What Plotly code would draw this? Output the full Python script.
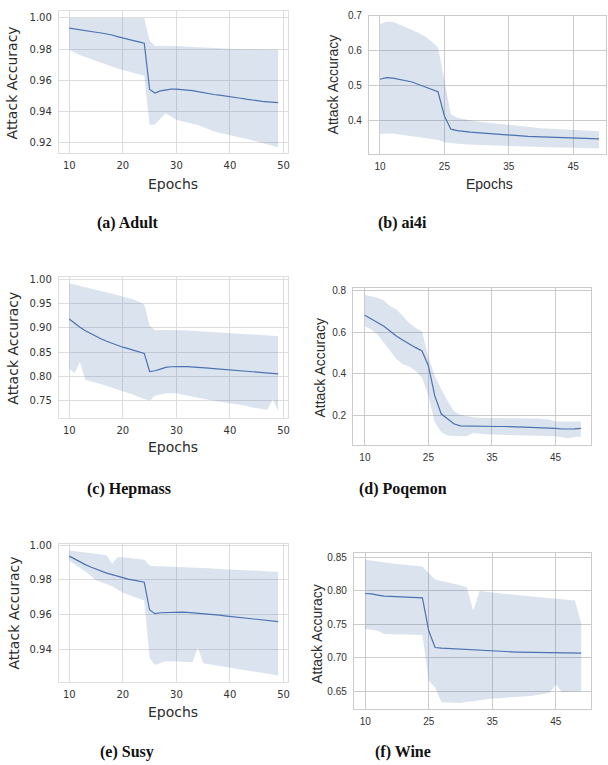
import plotly.graph_objects as go

W, H = 608, 765

# ---------------- data ----------------
epochs_ace = list(range(10, 50))
epochs_bdf = list(range(15, 50))  # plotted positions; tick "10" sits at the first one

mean_a = [0.9934, 0.9928, 0.9922, 0.9916, 0.9912, 0.9908, 0.9903, 0.9897, 0.9890, 0.9880,
          0.9870, 0.9862, 0.9854, 0.9846, 0.9837, 0.9540, 0.9516, 0.9530, 0.9536, 0.9541,
          0.9542, 0.9540, 0.9536, 0.9532, 0.9525, 0.9518, 0.9511, 0.9507, 0.9503, 0.9499,
          0.9495, 0.9489, 0.9483, 0.9477, 0.9471, 0.9467, 0.9463, 0.9460, 0.9457, 0.9454]
upper_a = [1.0] * 15 + [0.9855, 0.9820, 0.9820, 0.9820, 0.9819, 0.9818, 0.9817, 0.9815, 0.9813, 0.9810,
                        0.9807, 0.9805, 0.9804, 0.9803, 0.9802, 0.9801, 0.9800, 0.9800, 0.9799, 0.9798,
                        0.9797, 0.9797, 0.9796, 0.9796, 0.9795]
lower_a = [0.9795, 0.9775, 0.9760, 0.9748, 0.9735, 0.9722, 0.9710, 0.9698, 0.9686, 0.9674,
           0.9664, 0.9655, 0.9646, 0.9637, 0.9628, 0.9310, 0.9313, 0.9350, 0.9386, 0.9365,
           0.9345, 0.9335, 0.9324, 0.9318, 0.9310, 0.9295, 0.9280, 0.9270, 0.9261, 0.9252,
           0.9243, 0.9236, 0.9229, 0.9222, 0.9215, 0.9205, 0.9195, 0.9185, 0.9174, 0.9168]

mean_b = [0.519, 0.5236, 0.522, 0.518, 0.5145, 0.511, 0.504, 0.497, 0.490, 0.483,
          0.414, 0.376, 0.372, 0.369, 0.3675, 0.366, 0.3645, 0.363, 0.3615, 0.3598,
          0.358, 0.3572, 0.3564, 0.3556, 0.3548, 0.354, 0.3534, 0.3528, 0.3522, 0.3516,
          0.351, 0.3504, 0.3497, 0.3491, 0.3485]
upper_b = [0.677, 0.683, 0.683, 0.676, 0.668, 0.660, 0.651, 0.641, 0.627, 0.610,
           0.515, 0.419, 0.409, 0.405, 0.401, 0.398, 0.396, 0.394, 0.391, 0.389,
           0.387, 0.3855, 0.384, 0.3825, 0.3808, 0.379, 0.378, 0.377, 0.376, 0.375,
           0.374, 0.373, 0.372, 0.371, 0.370]
lower_b = [0.362, 0.364, 0.364, 0.361, 0.359, 0.357, 0.354, 0.351, 0.348, 0.345,
           0.339, 0.336, 0.3345, 0.333, 0.332, 0.331, 0.3304, 0.3298, 0.3292, 0.3286,
           0.328, 0.3274, 0.3268, 0.3262, 0.3256, 0.325, 0.3246, 0.3242, 0.3238, 0.3234,
           0.323, 0.3225, 0.322, 0.3215, 0.321]

mean_c = [0.9187, 0.9095, 0.9015, 0.894, 0.888, 0.8822, 0.877, 0.8723, 0.868, 0.864,
          0.860, 0.857, 0.854, 0.8505, 0.847, 0.8095, 0.811, 0.8145, 0.818, 0.8193,
          0.820, 0.8198, 0.8194, 0.819, 0.8182, 0.8173, 0.8165, 0.8156, 0.8146, 0.8137,
          0.8127, 0.8118, 0.8108, 0.8099, 0.8089, 0.808, 0.8072, 0.8063, 0.8055, 0.8046]
upper_c = [0.993, 0.990, 0.987, 0.9845, 0.9818, 0.979, 0.9763, 0.9736, 0.971, 0.9683,
           0.9656, 0.9625, 0.9592, 0.9545, 0.949, 0.905, 0.8952, 0.8955, 0.8958, 0.896,
           0.896, 0.8954, 0.8948, 0.8942, 0.8936, 0.893, 0.8924, 0.8918, 0.8912, 0.8906,
           0.890, 0.8893, 0.8886, 0.8878, 0.8871, 0.8864, 0.8856, 0.8847, 0.8839, 0.883]
lower_c = [0.8154, 0.806, 0.829, 0.792, 0.789, 0.7865, 0.783, 0.7795, 0.776, 0.7727,
           0.7693, 0.765, 0.761, 0.7565, 0.752, 0.7486, 0.759, 0.762, 0.764, 0.764,
           0.764, 0.7617, 0.7593, 0.757, 0.7545, 0.752, 0.7505, 0.7488, 0.7472, 0.7456,
           0.744, 0.742, 0.740, 0.738, 0.735, 0.733, 0.7315, 0.730, 0.752, 0.7266]

mean_d = [0.681, 0.663, 0.649, 0.628, 0.604, 0.580, 0.561, 0.541, 0.525, 0.509,
          0.437, 0.294, 0.207, 0.183, 0.159, 0.149, 0.148, 0.148, 0.147, 0.146,
          0.146, 0.146, 0.146, 0.146, 0.144, 0.143, 0.142, 0.141, 0.141, 0.140,
          0.137, 0.134, 0.133, 0.135, 0.137]
upper_d = [0.778, 0.772, 0.765, 0.751, 0.724, 0.708, 0.676, 0.644, 0.620, 0.604,
           0.477, 0.390, 0.326, 0.270, 0.222, 0.203, 0.196, 0.190, 0.188, 0.187,
           0.186, 0.186, 0.186, 0.186, 0.186, 0.186, 0.185, 0.184, 0.182, 0.180,
           0.170, 0.170, 0.170, 0.170, 0.170]
lower_d = [0.628, 0.612, 0.588, 0.549, 0.509, 0.469, 0.445, 0.434, 0.413, 0.381,
           0.294, 0.167, 0.119, 0.103, 0.100, 0.099, 0.099, 0.115, 0.111, 0.109,
           0.108, 0.107, 0.106, 0.105, 0.104, 0.103, 0.102, 0.101, 0.100, 0.100,
           0.099, 0.094, 0.090, 0.095, 0.097]

mean_e = [0.9937, 0.992, 0.9903, 0.9888, 0.9874, 0.9861, 0.9849, 0.9839, 0.983, 0.982,
          0.9811, 0.9804, 0.9798, 0.9792, 0.9786, 0.9626, 0.9605, 0.961, 0.9612, 0.9614,
          0.9614, 0.9614, 0.9612, 0.961, 0.9608, 0.9606, 0.9603, 0.9599, 0.9596, 0.9592,
          0.9589, 0.9586, 0.9582, 0.9579, 0.9575, 0.9572, 0.9569, 0.9565, 0.9562, 0.9559]
upper_e = [0.9969, 0.9966, 0.9963, 0.996, 0.9955, 0.995, 0.9946, 0.9941, 0.9893, 0.993,
           0.993, 0.9927, 0.9923, 0.992, 0.9916, 0.9883, 0.9878, 0.9878, 0.9877, 0.9877,
           0.9876, 0.9874, 0.9873, 0.9871, 0.987, 0.9868, 0.9866, 0.9865, 0.9863, 0.9862,
           0.986, 0.9859, 0.9857, 0.9856, 0.9854, 0.9853, 0.9851, 0.9849, 0.9847, 0.9845]
lower_e = [0.991, 0.989, 0.9872, 0.9848, 0.9823, 0.9798, 0.9786, 0.9775, 0.9763, 0.9744,
           0.9725, 0.9714, 0.9703, 0.9692, 0.9681, 0.9349, 0.9309, 0.932, 0.933, 0.933,
           0.933, 0.9328, 0.9326, 0.9324, 0.941, 0.9318, 0.9313, 0.9309, 0.9304, 0.93,
           0.9295, 0.929, 0.9286, 0.9281, 0.9277, 0.9272, 0.9266, 0.926, 0.9254, 0.9248]

mean_f = [0.7958, 0.7953, 0.7935, 0.7918, 0.7914, 0.791, 0.7906, 0.7902, 0.7898, 0.7894,
          0.740, 0.7154, 0.7145, 0.714, 0.713, 0.712, 0.7115, 0.711, 0.7105, 0.710,
          0.710, 0.7097, 0.7094, 0.709, 0.7087, 0.7085, 0.7085, 0.7085, 0.7085, 0.7085,
          0.7085, 0.7082, 0.7078, 0.7074, 0.707]
upper_f = [0.846, 0.845, 0.8435, 0.842, 0.841, 0.8397, 0.8388, 0.8378, 0.8369, 0.836,
           0.8263, 0.8165, 0.8145, 0.8125, 0.8103, 0.808, 0.805, 0.7696, 0.7995, 0.798,
           0.797, 0.796, 0.795, 0.794, 0.793, 0.792, 0.7912, 0.7904, 0.7896, 0.7888,
           0.788, 0.7871, 0.7862, 0.7854, 0.752]
lower_f = [0.7435, 0.7418, 0.740, 0.7356, 0.7353, 0.735, 0.7348, 0.7345, 0.7343, 0.734,
           0.666, 0.656, 0.634, 0.6336, 0.6333, 0.633, 0.6343, 0.6357, 0.637, 0.6383,
           0.6395, 0.64, 0.6405, 0.641, 0.6415, 0.642, 0.6434, 0.6448, 0.6462, 0.6476,
           0.6604, 0.649, 0.6495, 0.650, 0.6505]

ticks_ace = [10, 20, 30, 40, 50]
tickvals_bdf = [15, 25, 35, 45]
ticktext_bdf = ["10", "25", "35", "45"]

captions = ["(a) Adult", "(b) ai4i", "(c) Hepmass", "(d) Poqemon", "(e) Susy", "(f) Wine"]
ytitle = "Attack Accuracy"
xtitle = "Epochs"

# ---------------- style ----------------
LINE = "#4C72B0"
FILL = "rgba(76,114,176,0.2)"
SANS_A = "DejaVu Sans"
SANS_B = "Liberation Sans"
TXT = "#2b2b2b"


def px(x):
    return x / W


def py(y):
    return 1 - y / H


panels = [
    # x, mean, up, low, xdom(px), ydom(px), xrange, yrange, yticks, font, grid
    dict(x=epochs_ace, m=mean_a, u=upper_a, l=lower_a, xd=(59, 289), yd=(6, 149),
         xr=(8.05, 50.84), yr=(0.9130, 1.0045), yt=[0.92, 0.94, 0.96, 0.98, 1.00], yfmt=".2f",
         xt=ticks_ace, xtt=None, font=SANS_A, grid="#dedede"),
    dict(x=epochs_bdf, m=mean_b, u=upper_b, l=lower_b, xd=(370, 608), yd=(11, 150),
         xr=(13.26, 50.08), yr=(0.305, 0.70), yt=[0.4, 0.5, 0.6, 0.7], yfmt=".1f",
         xt=tickvals_bdf, xtt=ticktext_bdf, font=SANS_B, grid="#cccccc"),
    dict(x=epochs_ace, m=mean_c, u=upper_c, l=lower_c, xd=(59, 289), yd=(273.3, 415.3),
         xr=(8.05, 50.84), yr=(0.7136, 1.007), yt=[0.75, 0.80, 0.85, 0.90, 0.95, 1.00], yfmt=".2f",
         xt=ticks_ace, xtt=None, font=SANS_A, grid="#dedede"),
    dict(x=epochs_bdf, m=mean_d, u=upper_d, l=lower_d, xd=(354.3, 593), yd=(285, 442.7),
         xr=(13.15, 50.6), yr=(0.058, 0.811), yt=[0.2, 0.4, 0.6, 0.8], yfmt=".1f",
         xt=tickvals_bdf, xtt=ticktext_bdf, font=SANS_B, grid="#cccccc"),
    dict(x=epochs_ace, m=mean_e, u=upper_e, l=lower_e, xd=(59, 289), yd=(542.7, 681),
         xr=(8.05, 50.84), yr=(0.9213, 1.0006), yt=[0.94, 0.96, 0.98, 1.00], yfmt=".2f",
         xt=ticks_ace, xtt=None, font=SANS_A, grid="#dedede"),
    dict(x=epochs_bdf, m=mean_f, u=upper_f, l=lower_f, xd=(355, 593.3), yd=(552, 709),
         xr=(13.2, 50.6), yr=(0.6234, 0.8555), yt=[0.65, 0.70, 0.75, 0.80, 0.85], yfmt=".2f",
         xt=tickvals_bdf, xtt=ticktext_bdf, font=SANS_B, grid="#cccccc"),
]

fig = go.Figure()
layout = {}
for i, p in enumerate(panels):
    k = "" if i == 0 else str(i + 1)
    xa, ya = "x" + k, "y" + k
    fig.add_trace(go.Scatter(x=p["x"], y=p["u"], mode="lines", line=dict(width=0, color=LINE),
                             xaxis=xa, yaxis=ya, showlegend=False, hoverinfo="skip"))
    fig.add_trace(go.Scatter(x=p["x"], y=p["l"], mode="lines", line=dict(width=0, color=LINE),
                             fill="tonexty", fillcolor=FILL,
                             xaxis=xa, yaxis=ya, showlegend=False, hoverinfo="skip"))
    fig.add_trace(go.Scatter(x=p["x"], y=p["m"], mode="lines", line=dict(width=1.2, color=LINE),
                             xaxis=xa, yaxis=ya, showlegend=False))
    tf = dict(family=p["font"], size=10, color="#333333")
    xdict = dict(domain=[px(p["xd"][0]), px(p["xd"][1])], range=list(p["xr"]), anchor=ya,
                 tickvals=p["xt"], showgrid=True, gridcolor=p["grid"], gridwidth=1,
                 zeroline=False, showline=True, linecolor=p["grid"], linewidth=1, mirror=True,
                 ticks="", tickfont=tf, ticklabelstandoff=3)
    if p["xtt"] is not None:
        xdict["ticktext"] = p["xtt"]
    ydict = dict(domain=[py(p["yd"][1]), py(p["yd"][0])], range=list(p["yr"]), anchor=xa,
                 tickvals=p["yt"], tickformat=p["yfmt"], showgrid=True, gridcolor=p["grid"],
                 gridwidth=1, zeroline=False, showline=True, linecolor=p["grid"], linewidth=1,
                 mirror=True, ticks="", tickfont=tf, ticklabelstandoff=4)
    layout["xaxis" + k] = xdict
    layout["yaxis" + k] = ydict

fig.update_layout(**layout)

ann = []
# y titles (x_px, y_px, font)
ytitles = [(13, 78, SANS_A), (335, 80, SANS_B), (13, 345, SANS_A),
           (321, 365, SANS_B), (14, 611.5, SANS_A), (318, 633, SANS_B)]
for (x, y, f) in ytitles:
    ann.append(dict(x=px(x), y=py(y), xref="paper", yref="paper", text=ytitle, textangle=-90,
                    showarrow=False, xanchor="center", yanchor="middle",
                    font=dict(family=f, size=14, color=TXT)))
xtitles = [(174, 180, SANS_A), (491, 180, SANS_B), (174, 445, SANS_A), (174, 711.7, SANS_A)]
for (x, y, f) in xtitles:
    ann.append(dict(x=px(x), y=py(y), xref="paper", yref="paper", text=xtitle,
                    showarrow=False, xanchor="center", yanchor="middle",
                    font=dict(family=f, size=14, color=TXT)))
cap_pos = [(128, 219), (404, 219), (129, 487), (404, 487), (127.5, 752), (404, 752)]
for (x, y), c in zip(cap_pos, captions):
    ann.append(dict(x=px(x), y=py(y), xref="paper", yref="paper", text="<b>" + c + "</b>",
                    showarrow=False, xanchor="center", yanchor="middle",
                    font=dict(family="Liberation Serif", size=16, color="#111111")))

fig.update_layout(width=W, height=H, margin=dict(l=0, r=0, t=0, b=0),
                  paper_bgcolor="white", plot_bgcolor="white", annotations=ann,
                  showlegend=False)

fig.write_html("out.html")
